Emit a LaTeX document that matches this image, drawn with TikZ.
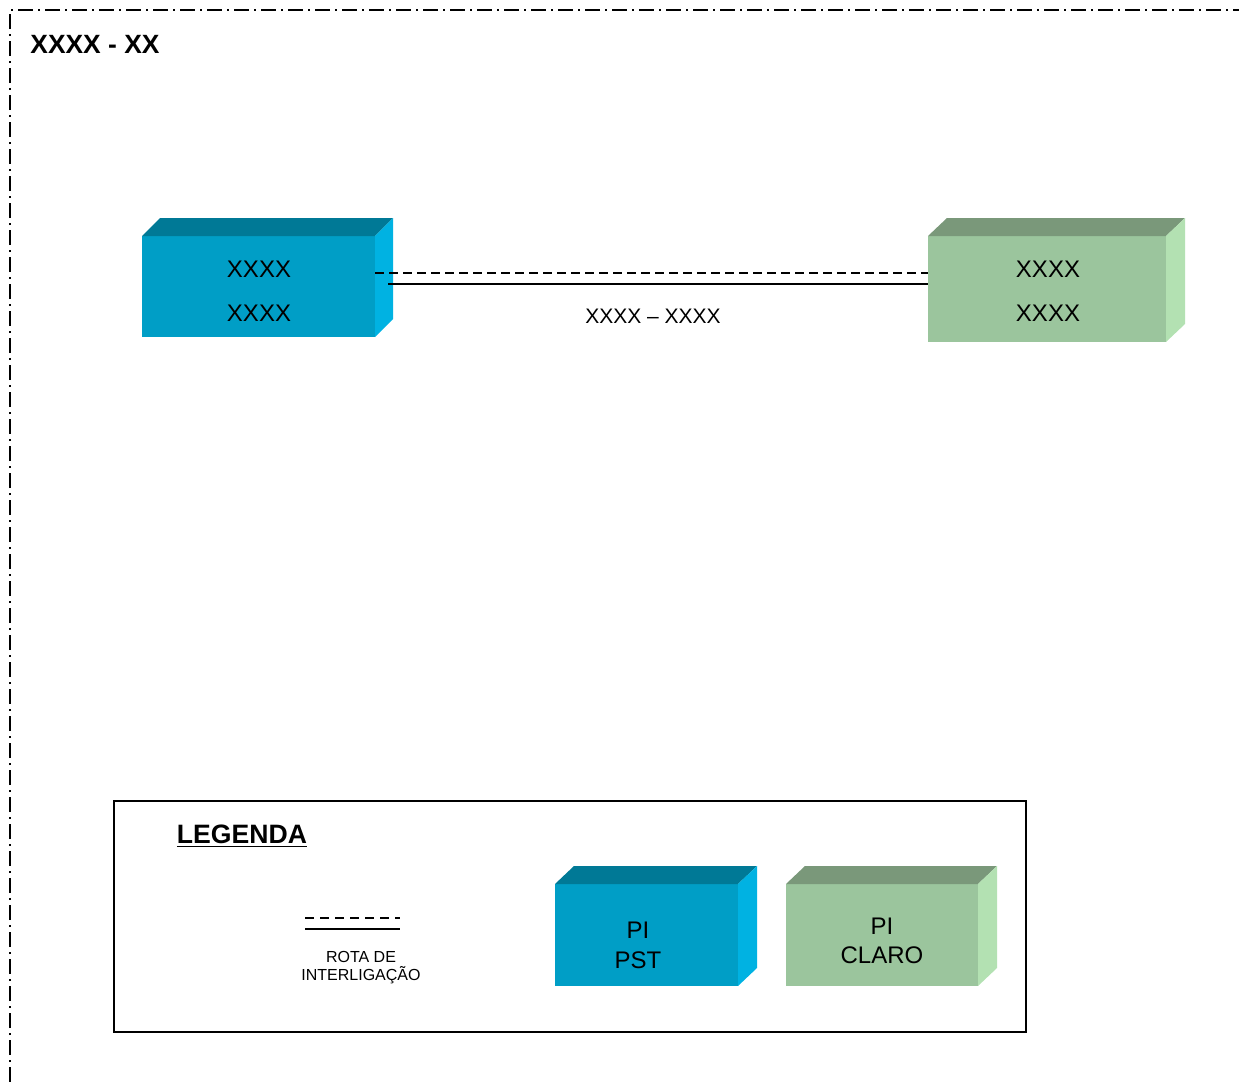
\documentclass[tikz,border=0pt]{standalone}
\usepackage{fontspec}
\setmainfont{Liberation Sans}
\usetikzlibrary{positioning}
\definecolor{pstfront}{RGB}{0,158,198}
\definecolor{psttop}{RGB}{0,121,150}
\definecolor{pstside}{RGB}{0,178,226}
\definecolor{clarofront}{RGB}{155,197,157}
\definecolor{clarotop}{RGB}{122,152,122}
\definecolor{claroside}{RGB}{179,225,178}

\tikzset{
  facebox/.style={inner sep=0pt, outer sep=0pt, draw=none},
  boxtext/.style={font=\fontsize{12}{14}\selectfont},
  rota/.style={line width=1pt},
  rotadash/.style={line width=1pt, dash pattern=on 4.5pt off 2.5pt},
  border/.style={line width=0.75pt, dash pattern=on 7.5pt off 2.5pt on 1pt off 2.5pt},
}

\begin{document}
\begin{tikzpicture}[x=0.5pt, y=-0.5pt]

    \useasboundingbox (0,0) rectangle (1239,1082);

    \draw[border] (10,1082) -- (10,10) -- (1239,10);
    \node[anchor=west, inner sep=0pt, font=\bfseries\fontsize{13.2}{15}\selectfont] (titulo) at (30,44) {XXXX - XX};

    % caixas de cima
    \node[facebox, fill=pstfront, minimum width=116.5pt, minimum height=50.5pt] (pstA) at (258.5,286.5) {};
    \fill[psttop] (pstA.north west) -- ++(18,-18) -- ([shift={(18,-18)}]pstA.north east) -- (pstA.north east) -- cycle;
    \fill[pstside] (pstA.north east) -- ++(18,-18) -- ([shift={(18,-18)}]pstA.south east) -- (pstA.south east) -- cycle;
    \node[boxtext] (pstA1) at (259,269) {XXXX};
    \node[boxtext] (pstA2) at (259,313) {XXXX};

    \node[facebox, fill=clarofront, minimum width=119pt, minimum height=53pt] (claroA) at (1047,289) {};
    \fill[clarotop] (claroA.north west) -- ++(19,-18) -- ([shift={(19,-18)}]claroA.north east) -- (claroA.north east) -- cycle;
    \fill[claroside] (claroA.north east) -- ++(19,-18) -- ([shift={(19,-18)}]claroA.south east) -- (claroA.south east) -- cycle;
    \node[boxtext] (claroA1) at (1048,269) {XXXX};
    \node[boxtext] (claroA2) at (1048,313) {XXXX};

    \path ([yshift=6.75pt]pstA.east) coordinate (dashA);
    \path ([xshift=6.5pt, yshift=1.25pt]pstA.east) coordinate (lineA);
    \draw[rotadash] (dashA) -- (dashA -| claroA.west);
    \draw[rota] (lineA) -- (lineA -| claroA.west);
    \node[font=\fontsize{10.5}{12}\selectfont] (rotaLbl) at (653,316) {XXXX -- XXXX};

    % legenda
    \draw[line width=0.75pt] (114,801) rectangle (1026,1032);
    \node[font=\bfseries\fontsize{13.3}{15}\selectfont] (legenda) at (242,836) {\underline{LEGENDA}};

    \coordinate (legDashL) at (305,918);
    \coordinate (legDashR) at (400,918);
    \coordinate (legLineL) at (305,929);
    \coordinate (legLineR) at (400,929);
    \draw[line width=1pt, dash pattern=on 4.5pt off 3pt] (legDashL) -- (legDashR);
    \draw[rota] (legLineL) -- (legLineR);
    \node[align=center, font=\fontsize{8}{9}\selectfont] (legRota) at (361,968) {ROTA DE\\INTERLIGAÇÃO};

    \node[facebox, fill=pstfront, minimum width=91.5pt, minimum height=51pt] (legPst) at (646.5,935) {};
    \fill[psttop] (legPst.north west) -- ++(19,-18) -- ([shift={(19,-18)}]legPst.north east) -- (legPst.north east) -- cycle;
    \fill[pstside] (legPst.north east) -- ++(19,-18) -- ([shift={(19,-18)}]legPst.south east) -- (legPst.south east) -- cycle;
    \node[boxtext, align=center, font=\fontsize{12}{15}\selectfont] (legPstTxt) at (638,945) {PI\\PST};

    \node[facebox, fill=clarofront, minimum width=96pt, minimum height=51pt] (legClaro) at (882,935) {};
    \fill[clarotop] (legClaro.north west) -- ++(19,-18) -- ([shift={(19,-18)}]legClaro.north east) -- (legClaro.north east) -- cycle;
    \fill[claroside] (legClaro.north east) -- ++(19,-18) -- ([shift={(19,-18)}]legClaro.south east) -- (legClaro.south east) -- cycle;
    \node[boxtext, align=center, font=\fontsize{12}{14.5}\selectfont] (legClaroTxt) at (882,941) {PI\\CLARO};

\end{tikzpicture}
\end{document}
